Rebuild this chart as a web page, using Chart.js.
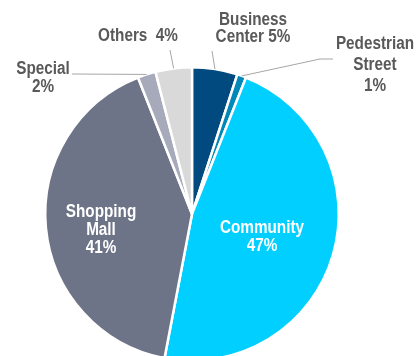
<!DOCTYPE html>
<html>
<head>
<meta charset="utf-8">
<script src="https://cdn.jsdelivr.net/npm/chart.js@4.4.1/dist/chart.umd.min.js"></script>
<style>
  html, body { margin: 0; padding: 0; background: #fff; overflow: hidden; }
  #wrap { position: relative; width: 419px; height: 370px; }
</style>
</head>
<body>
<div id="wrap"><canvas id="shareChart"></canvas></div>
<script>
// Reparto por tipo de proyecto (%)
const categories = ['Business Center', 'Pedestrian Street', 'Community', 'Shopping Mall', 'Special', 'Others'];
const shares = [5, 1, 47, 41, 2, 4];

const sliceColors = ['#004a80', '#0088b8', '#00cfff', '#6e7487', '#a7aabb', '#d9d9d9'];

// Cómo se parte cada etiqueta en líneas ({v} = porcentaje)
const labelLines = [
  ['Business', 'Center {v}%'],
  ['Pedestrian', 'Street', '{v}%'],
  ['Community', '{v}%'],
  ['Shopping', 'Mall', '{v}%'],
  ['Special', '{v}%'],
  ['Others  {v}%']
];

// Posición de etiquetas relativa al centro del pastel, interlineado y puntos de la línea guía
const labelPlace = [
  { dx: 61, dy: -194, gap: 17.5, inside: false, leader: [[20, -163]] },
  { dx: 183, dy: -169.5, gap: 21, inside: false, leader: [[128, -155], [141, -155]] },
  { dx: 70, dy: 14, gap: 18, inside: true },
  { dx: -91, dy: -2, gap: 18, inside: true },
  { dx: -149, dy: -145, gap: 18.5, inside: false, leader: [[-120, -140]] },
  { dx: -54, dy: -177.5, gap: 18, inside: false, leader: [[-22, -164]] }
];

const pieLabels = {
  id: 'pieLabels',
  afterDatasetsDraw(chart) {
    const ctx = chart.ctx;
    const meta = chart.getDatasetMeta(0);
    meta.data.forEach((arc, i) => {
      const { x, y, startAngle, endAngle, outerRadius } = arc.getProps(['x', 'y', 'startAngle', 'endAngle', 'outerRadius'], true);
      const place = labelPlace[i];
      ctx.save();
      if (place.leader) {
        const mid = (startAngle + endAngle) / 2;
        ctx.strokeStyle = '#a6a6a6';
        ctx.lineWidth = 1;
        ctx.beginPath();
        ctx.moveTo(x + Math.cos(mid) * outerRadius, y + Math.sin(mid) * outerRadius);
        place.leader.forEach(p => ctx.lineTo(x + p[0], y + p[1]));
        ctx.stroke();
      }
      ctx.font = 'bold 15.3px "Liberation Sans", Arial, sans-serif';
      ctx.textAlign = 'center';
      ctx.textBaseline = 'middle';
      ctx.fillStyle = place.inside ? '#ffffff' : '#595959';
      labelLines[i].forEach((line, k) => {
        ctx.save();
        // letra algo más alta que ancha
        ctx.translate(x + place.dx, y + place.dy + k * place.gap);
        ctx.scale(1, 1.18);
        ctx.fillText(line.replace('{v}', shares[i]), 0, 0);
        ctx.restore();
      });
      ctx.restore();
    });
  }
};

new Chart(document.getElementById('shareChart'), {
  type: 'pie',
  data: {
    labels: categories,
    datasets: [{
      data: shares,
      backgroundColor: sliceColors,
      borderColor: '#ffffff',
      borderWidth: 2.5
    }]
  },
  options: {
    responsive: true,
    maintainAspectRatio: false,
    animation: false,
    layout: { padding: { left: 44, right: 79, top: 66, bottom: 8 } },
    plugins: {
      legend: { display: false },
      tooltip: { enabled: false }
    }
  },
  plugins: [pieLabels]
});
</script>
</body>
</html>
